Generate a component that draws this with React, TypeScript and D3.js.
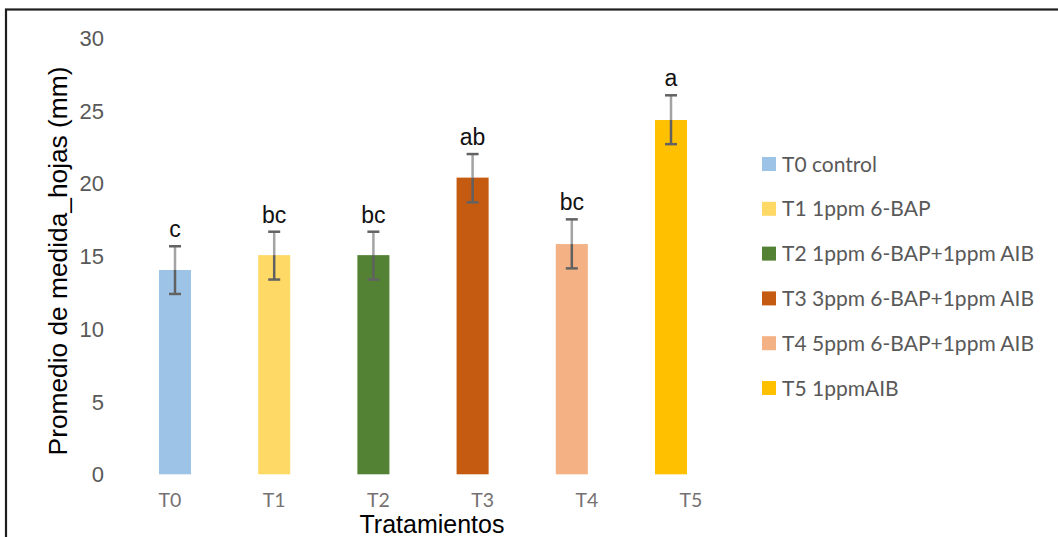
import React from "react";
import * as d3 from "d3";

const categories = ["T0", "T1", "T2", "T3", "T4", "T5"];
const legendLabels = [
  "T0 control",
  "T1 1ppm 6-BAP",
  "T2 1ppm 6-BAP+1ppm AIB",
  "T3 3ppm 6-BAP+1ppm AIB",
  "T4 5ppm 6-BAP+1ppm AIB",
  "T5 1ppmAIB",
];
const means = [14.05, 15.07, 15.07, 20.4, 15.83, 24.36];
const errLow = [1.65, 1.68, 1.68, 1.7, 1.67, 1.66];
const errHigh = [1.63, 1.61, 1.61, 1.62, 1.7, 1.7];
const letters = ["c", "bc", "bc", "ab", "bc", "a"];
const colors = ["#9DC3E6", "#FFD966", "#548235", "#C55A11", "#F4B183", "#FFC000"];
const yTicks = [0, 5, 10, 15, 20, 25, 30];

export default function App() {
  const W = 1058;
  const H = 537;
  const x = d3.scaleBand<string>().domain(categories).range([125.4, 720.6]).paddingInner(0.677).paddingOuter(0.3385);
  const xLabel = d3.scalePoint<string>().domain(categories).range([170, 691]);
  const y = d3.scaleLinear().domain([0, 30]).range([474.3, 38]);
  const legendY = d3.scalePoint<string>().domain(legendLabels).range([164, 388]);
  const capHalf = 6;

  return (
    <svg width={W} height={H} style={{ position: "absolute", left: 0, top: 0, background: "#fff" }}>
      <rect x={0} y={0} width={W} height={H} fill="#fff" />
      <rect x={6} y={9.5} width={W + 20} height={H + 20} fill="none" stroke="#1e1e1e" strokeWidth={2.2} />

      {yTicks.map((t) => (
        <text key={t} x={104} y={y(t)} dy="0.36em" textAnchor="end" fontFamily="Liberation Sans, Arial, sans-serif" fontSize={22} fill="#595959">
          {t}
        </text>
      ))}

      {categories.map((c, i) => {
        const bx = x(c)!;
        const cx = bx + x.bandwidth() / 2;
        const top = y(means[i]);
        const lo = y(means[i] - errLow[i]);
        const hi = y(means[i] + errHigh[i]);
        return (
          <g key={c}>
            <rect x={bx} y={top} width={x.bandwidth()} height={y(0) - top} fill={colors[i]} />
            <line x1={cx} x2={cx} y1={hi} y2={top} stroke="#a3a3a3" strokeWidth={2.5} />
            <line x1={cx} x2={cx} y1={top} y2={lo} stroke="#606060" strokeWidth={2.5} />
            <line x1={cx - capHalf} x2={cx + capHalf} y1={hi} y2={hi} stroke="#636363" strokeWidth={2.5} />
            <line x1={cx - capHalf} x2={cx + capHalf} y1={lo} y2={lo} stroke="#636363" strokeWidth={2.5} />
            <text x={cx} y={hi - 9} textAnchor="middle" fontFamily="Liberation Sans, Arial, sans-serif" fontSize={23} fill="#111">
              {letters[i]}
            </text>
          </g>
        );
      })}

      {categories.map((c) => (
        <text key={c} x={xLabel(c)} y={507} textAnchor="middle" fontFamily="Lato, sans-serif" fontSize={19.5} fill="#767171">
          {c}
        </text>
      ))}

      <text x={432} y={533} textAnchor="middle" fontFamily="Liberation Sans, Arial, sans-serif" fontSize={25} fill="#000">
        Tratamientos
      </text>
      <text transform="translate(67,261) rotate(-90)" textAnchor="middle" fontFamily="Liberation Sans, Arial, sans-serif" fontSize={26.3} fill="#000">
        Promedio de medida_hojas (mm)
      </text>

      {legendLabels.map((l, i) => {
        const ly = legendY(l)!;
        return (
          <g key={l}>
            <rect x={762} y={ly - 7} width={14} height={14} fill={colors[i]} />
            <text x={782} y={ly} dy="0.36em" fontFamily="Lato, sans-serif" fontSize={21} fill="#595959">
              {l}
            </text>
          </g>
        );
      })}
    </svg>
  );
}
